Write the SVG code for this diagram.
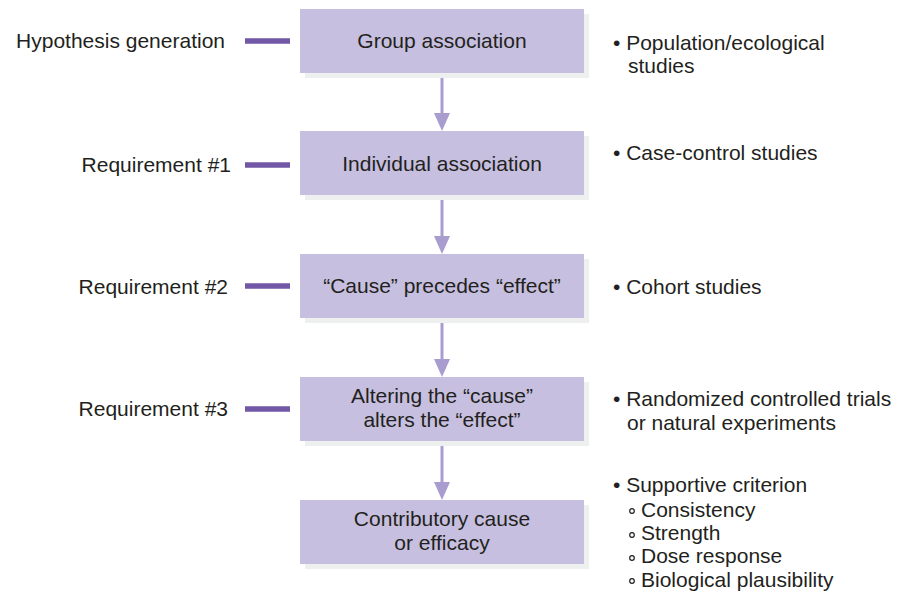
<svg xmlns="http://www.w3.org/2000/svg" width="898" height="593" viewBox="0 0 898 593">
<style>
text{font-family:"Liberation Sans",Arial,sans-serif;font-size:21px;fill:#231f20}
.c{text-anchor:middle}
.r{text-anchor:end}
.box{fill:#c6bfdf}
.sh{fill:#eeefef}
.dash{stroke:#7157a6;stroke-width:5.5}
.arr{stroke:#a99ccf;stroke-width:3;fill:none}
.head{fill:#a99ccf}
</style>
<rect width="898" height="593" fill="#ffffff"/>
<g id="connectors">
<line class="arr" x1="442" y1="73" x2="442" y2="115"/>
<polygon class="head" points="434,113 450,113 442,131"/>
<line class="arr" x1="442" y1="195" x2="442" y2="238"/>
<polygon class="head" points="434,236 450,236 442,254"/>
<line class="arr" x1="442" y1="318" x2="442" y2="361"/>
<polygon class="head" points="434,359 450,359 442,377"/>
<line class="arr" x1="442" y1="441" x2="442" y2="484"/>
<polygon class="head" points="434,482 450,482 442,500"/>
<line class="dash" x1="245" y1="41" x2="290" y2="41"/>
<line class="dash" x1="245" y1="165" x2="290" y2="165"/>
<line class="dash" x1="245" y1="286" x2="290" y2="286"/>
<line class="dash" x1="245" y1="409" x2="290" y2="409"/>
</g>
<g id="n1">
<rect class="sh" x="305" y="14" width="284" height="64"/>
<rect class="box" x="300" y="9" width="284" height="64"/>
<text class="c" x="442" y="48">Group association</text>
</g>
<g id="n2">
<rect class="sh" x="305" y="136" width="284" height="64"/>
<rect class="box" x="300" y="131" width="284" height="64"/>
<text class="c" x="442" y="171">Individual association</text>
</g>
<g id="n3">
<rect class="sh" x="305" y="259" width="284" height="64"/>
<rect class="box" x="300" y="254" width="284" height="64"/>
<text class="c" x="442" y="293">“Cause” precedes “effect”</text>
</g>
<g id="n4">
<rect class="sh" x="305" y="382" width="284" height="64"/>
<rect class="box" x="300" y="377" width="284" height="64"/>
<text class="c" x="442" y="403">Altering the “cause”</text>
<text class="c" x="442" y="427">alters the “effect”</text>
</g>
<g id="n5">
<rect class="sh" x="305" y="505" width="284" height="64"/>
<rect class="box" x="300" y="500" width="284" height="64"/>
<text class="c" x="442" y="526">Contributory cause</text>
<text class="c" x="442" y="550">or efficacy</text>
</g>
<g id="left-labels">
<text class="r" x="225" y="48">Hypothesis generation</text>
<text class="r" x="231" y="172">Requirement #1</text>
<text class="r" x="228" y="294">Requirement #2</text>
<text class="r" x="228" y="416">Requirement #3</text>
</g>
<g id="right-labels">
<text x="613" y="50">• Population/ecological</text>
<text x="628" y="73">studies</text>
<text x="613" y="160">• Case-control studies</text>
<text x="613" y="294">• Cohort studies</text>
<text x="613" y="406">• Randomized controlled trials</text>
<text x="627" y="430">or natural experiments</text>
<text x="613" y="492">• Supportive criterion</text>
<g fill="none" stroke="#231f20" stroke-width="1.2">
<circle cx="632" cy="511" r="2.3"/>
<circle cx="632" cy="535" r="2.3"/>
<circle cx="632" cy="558" r="2.3"/>
<circle cx="632" cy="581" r="2.3"/>
</g>
<text x="641" y="517">Consistency</text>
<text x="641" y="540">Strength</text>
<text x="641" y="563">Dose response</text>
<text x="641" y="587">Biological plausibility</text>
</g>
</svg>
